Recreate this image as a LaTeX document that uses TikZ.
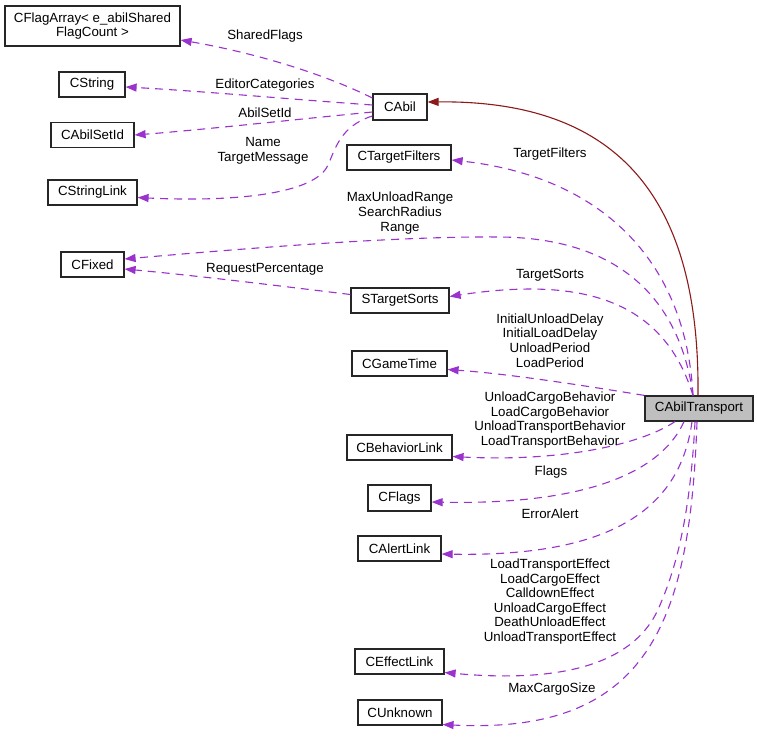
\documentclass[tikz,border=0pt]{standalone}
\usepackage{fontspec}
\setmainfont{Liberation Sans}
\usetikzlibrary{arrows.meta,calc}
\definecolor{edgepurple}{HTML}{9A32CD}
\definecolor{edgered}{HTML}{8B1A1A}
\definecolor{boxgray}{HTML}{BFBFBF}
\begin{document}
\begin{tikzpicture}[x=1pt,y=-1pt,
  every node/.style={font=\fontsize{13.3}{14.6}\selectfont},
  cls/.style={draw=black!85, line width=1.2pt, fill=white, inner sep=0pt, minimum height=25pt},
  lbl/.style={align=center, inner sep=0pt},
  mem/.style={draw=edgepurple, line width=1.1pt, dash pattern=on 8pt off 6pt, -{Triangle[length=11pt,width=8pt]}},
  inh/.style={draw=edgered, line width=1.1pt, -{Triangle[length=11pt,width=8pt]}},
]
\useasboundingbox[fill=white] (0,0) rectangle (757,736);

% class boxes
\node[cls, minimum width=175pt, minimum height=40pt, align=center] (cflagarray) at (92.5,26) {CFlagArray< e\_abilShared\\FlagCount >};
\node[cls, minimum width=66pt] (cstring) at (92,84.5) {CString};
\node[cls, minimum width=83pt] (cabilsetid) at (92.5,135) {CAbilSetId};
\node[cls, minimum width=89pt] (cstringlink) at (92.5,192.5) {CStringLink};
\node[cls, minimum width=54pt, minimum height=26pt] (cabil) at (400,107) {CAbil};
\node[cls, minimum width=104pt] (ctf) at (399,157.5) {CTargetFilters};
\node[cls, minimum width=63pt] (cfixed) at (92.5,264.5) {CFixed};
\node[cls, minimum width=98pt] (sts) at (400,300.5) {STargetSorts};
\node[cls, minimum width=95pt] (cgt) at (399.5,363.5) {CGameTime};
\node[cls, minimum width=108pt, fill=boxgray] (cat) at (699,408.5) {CAbilTransport};
\node[cls, minimum width=105pt] (cbl) at (399.5,447.5) {CBehaviorLink};
\node[cls, minimum width=63pt, minimum height=26pt] (cflags) at (399.5,498) {CFlags};
\node[cls, minimum width=83pt] (cal) at (399.5,548.5) {CAlertLink};
\node[cls, minimum width=89pt] (cel) at (399.5,661.5) {CEffectLink};
\node[cls, minimum width=84pt] (cun) at (400,712.5) {CUnknown};

% edges from CAbil
\draw[mem] ($(cabil.west)+(0,-9)$) .. controls (320,72) and (250,52) .. ($(cflagarray.east)+(0,14)$);
\draw[mem] ($(cabil.west)+(0,-2)$) .. controls (300,100) and (200,91) .. ($(cstring.east)+(0,2.5)$);
\draw[mem] ($(cabil.west)+(0,5)$) .. controls (300,119) and (200,130) .. (cabilsetid.east);
\draw[mem] ($(cabil.west)+(0,9)$) .. controls (340,126) and (335,150) .. (328,165) .. controls (315,195) and (230,202) .. ($(cstringlink.east)+(0,5)$);

% inheritance
\draw[inh] ($(cat.north)+(-1,0)$) .. controls (700,200) and (620,100) .. ($(cabil.east)+(0,-5)$);

% edges from CAbilTransport (top)
\draw[mem] ($(cat.north)+(-6,0)$) .. controls (685,250) and (590,175) .. ($(ctf.east)+(0,2.5)$);
\draw[mem] ($(cat.north)+(-6,0)$) .. controls (680,300) and (620,238) .. (500,237) .. controls (400,236) and (250,248) .. ($(cfixed.east)+(0,-5.5)$);
\draw[mem] ($(cat.north)+(-6,0)$) .. controls (665,305) and (590,275) .. ($(sts.east)+(0,-4)$);
\draw[mem] (cat.north west) .. controls (580,385) and (510,374) .. ($(cgt.east)+(0,6)$);

% edges from CAbilTransport (bottom)
\draw[mem] ($(cat.south)+(-24,0)$) .. controls (640,445) and (560,462) .. ($(cbl.east)+(0,9)$);
\draw[mem] ($(cat.south)+(-15,0)$) .. controls (660,475) and (580,505) .. ($(cflags.east)+(0,4)$);
\draw[mem] ($(cat.south)+(-7,0)$) .. controls (680,510) and (610,557) .. ($(cal.east)+(0,5.5)$);
\draw[mem] ($(cat.south)+(-4,0)$) .. controls (690,520) and (675,570) .. (660,605) .. controls (640,655) and (580,685) .. ($(cel.east)+(0,11)$);
\draw[mem] ($(cat.south)+(-2,0)$) .. controls (690,620) and (650,735) .. ($(cun.east)+(0,12)$);

% STargetSorts -> CFixed
\draw[mem] ($(sts.west)+(0,-6)$) .. controls (280,286) and (200,276) .. ($(cfixed.east)+(0,4.5)$);

% labels
\node[lbl] (lshared) at (265,36) {SharedFlags};
\node[lbl] (leditor) at (265,85) {EditorCategories};
\node[lbl] (labilsetid) at (265,113) {AbilSetId};
\node[lbl] (lname) at (263,151) {Name\\TargetMessage};
\node[lbl] (ltf) at (550,154) {TargetFilters};
\node[lbl] (lrange) at (400,213) {MaxUnloadRange\\SearchRadius\\Range};
\node[lbl] (lreq) at (265,269) {RequestPercentage};
\node[lbl] (lts) at (550,275) {TargetSorts};
\node[lbl] (ltime) at (550,340.5) {InitialUnloadDelay\\InitialLoadDelay\\UnloadPeriod\\LoadPeriod};
\node[lbl] (lbeh) at (550,420) {UnloadCargoBehavior\\LoadCargoBehavior\\UnloadTransportBehavior\\LoadTransportBehavior};
\node[lbl] (lflags) at (551,472) {Flags};
\node[lbl] (lerr) at (550,514) {ErrorAlert};
\node[lbl] (leff) at (550,601.5) {LoadTransportEffect\\LoadCargoEffect\\CalldownEffect\\UnloadCargoEffect\\DeathUnloadEffect\\UnloadTransportEffect};
\node[lbl] (lmax) at (552,689) {MaxCargoSize};
\end{tikzpicture}
\end{document}
